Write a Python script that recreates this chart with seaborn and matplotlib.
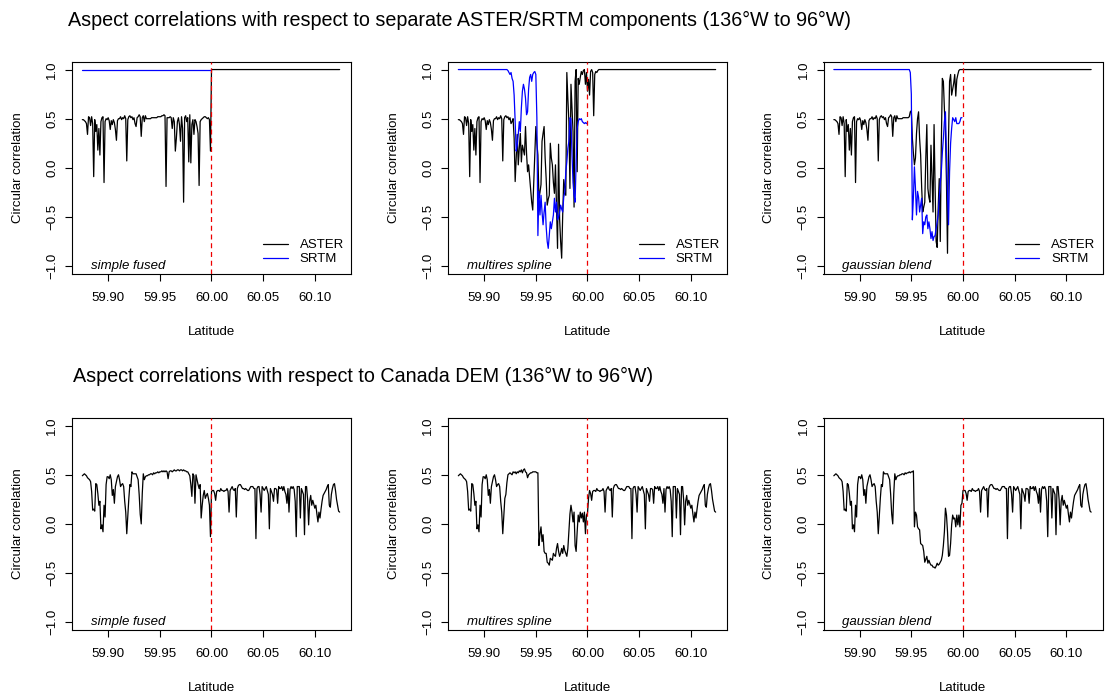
import numpy as np
import pandas as pd
import matplotlib
matplotlib.use("Agg")
import matplotlib.pyplot as plt
from matplotlib.lines import Line2D
import seaborn as sns

# ---------------- data ----------------
LAT0 = 59.875
STEP = 0.001

# top row: ASTER / SRTM components (values on 0.001 deg grid from 59.875)
aster_simple = [0.49, 0.49, 0.48, 0.47, 0.45, 0.34, 0.52, 0.51, 0.43, 0.52,
                0.45, -0.09, 0.49, 0.37, 0.44, 0.18, 0.40, 0.13, 0.47, 0.51,
                0.52, -0.15, 0.47, 0.50, 0.49, 0.51, 0.48, 0.39, 0.48, 0.44,
                0.49, 0.46, 0.39, 0.28, 0.48, 0.50, 0.50, 0.52, 0.49, 0.51,
                0.50, 0.53, 0.50, 0.07, 0.49, 0.52, 0.53, 0.51, 0.52, 0.49,
                0.51, 0.45, 0.42, 0.51, 0.52, 0.54, 0.52, 0.32, 0.51, 0.53,
                0.47, 0.53, 0.50, 0.50, 0.50, 0.50, 0.50, 0.51, 0.51, 0.51,
                0.51, 0.51, 0.51, 0.52, 0.52, 0.52, 0.52, 0.53, 0.53, 0.54,
                0.53, -0.19, 0.51, 0.51, 0.51, 0.52, 0.51, 0.40, 0.51, 0.47,
                0.17, 0.30, 0.47, 0.51, 0.44, 0.27, 0.52, 0.40, -0.35, 0.51,
                0.53, 0.47, 0.51, 0.06, 0.54, 0.05, 0.44, 0.49, 0.34, 0.49,
                0.47, 0.42, 0.35, -0.18, 0.47, 0.49, 0.50, 0.51, 0.52, 0.52,
                0.51, 0.50, 0.51, 0.49, 0.17]
aster_simple_tail_lat = [60.000, 60.124]
aster_simple_tail_val = [1.0, 1.0]
srtm_simple_lat = [59.875, 59.999]
srtm_simple_val = [1.0, 1.0]

# multires spline: ASTER from index 52, SRTM from index 48
aster_multires_mid = [0.47, 0.50, 0.30, -0.14, 0.10, 0.34, 0.03, 0.20, 0.35, 0.06,
                      0.23, 0.18, 0.13, 0.42, 0.15, -0.04, 0.03, -0.10, -0.24, -0.35,
                      -0.43, -0.14, 0.15, 0.42, 0.25, 0.13, -0.31, -0.25, -0.17, 0.27,
                      0.35, 0.42, 0.10, -0.11, -0.38, -0.32, -0.28, 0.25, 0.10, 0.03,
                      -0.15, -0.26, 0.03, -0.40, -0.82, 0.24, -0.52, -0.75, -0.92, -0.48,
                      -0.12, -0.20, -0.28, 0.97, 0.70, 0.47, -0.21, 0.85, 0.60, 0.37,
                      -0.40, 0.88, 1.00, -0.04, 0.91, 0.85, 0.92, 0.98, 0.95, 0.99,
                      1.00, 0.85, 0.97, 0.78, 0.90, 0.74, 0.98, 1.00, 0.97, 0.53,
                      0.95, 0.98, 0.97, 0.99, 1.00, 1.00, 1.00]
aster_multires_tail_lat = [60.014, 60.124]
aster_multires_tail_val = [1.0, 1.0]
srtm_multires_head_lat = [59.875, 59.922]
srtm_multires_head_val = [1.0, 1.0]
srtm_multires_mid = [0.99, 0.97, 0.95, 0.97, 0.91, 0.88, 0.74, 0.47, 0.17, 0.23,
                     0.34, 0.47, 0.37, 0.61, 0.78, 0.85, 0.80, 0.71, 0.54, 0.57,
                     0.80, 0.92, 0.95, 0.88, 0.95, 0.97, 0.98, 0.95, 0.51, -0.69,
                     -0.24, -0.48, -0.28, -0.45, -0.58, -0.45, -0.35, -0.60, -0.75, -0.82,
                     -0.69, -0.55, -0.62, -0.55, -0.48, -0.31, -0.45, -0.35, -0.53, -0.50,
                     -0.45, -0.38, -0.42, -0.45, -0.30, -0.25, -0.04, 0.06, 0.20, 0.27,
                     0.51, 0.50, 0.13, -0.15, -0.28, -0.35, 0.06, 0.40, 0.47, 0.50,
                     0.49, 0.50, 0.47, 0.46, 0.45, 0.46, 0.45, 0.46]

# gaussian blend: ASTER from index 74, SRTM from index 74
aster_gauss_mid = [0.57, 0.58, 0.30, 0.15, 0.03, 0.10, 0.35, 0.50, 0.57, 0.30,
                   0.13, -0.20, -0.45, -0.40, -0.35, 0.10, 0.44, -0.21, -0.30, -0.35,
                   0.23, -0.10, -0.45, 0.44, -0.20, -0.75, -0.81, -0.40, -0.11, -0.75,
                   0.23, 0.91, 0.88, 0.60, 0.37, -0.14, -0.87, 0.30, 0.88, 0.95,
                   0.74, 0.80, 0.86, 0.95, 0.73, 0.90, 0.95, 0.99, 1.00]
aster_gauss_tail_lat = [59.998, 60.124]
aster_gauss_tail_val = [1.0, 1.0]
srtm_gauss_head_lat = [59.875, 59.948]
srtm_gauss_head_val = [1.0, 1.0]
srtm_gauss_mid = [0.97, 0.75, -0.53, -0.30, 0.01, -0.21, -0.48, -0.24, -0.30, -0.45,
                  -0.38, -0.31, -0.67, -0.55, -0.58, -0.50, -0.48, -0.62, -0.55, -0.62,
                  -0.72, -0.65, -0.74, -0.70, -0.69, -0.62, -0.55, -0.48, -0.31, -0.15,
                  -0.04, 0.15, 0.30, 0.47, 0.57, 0.13, -0.28, -0.58, -0.04, 0.25,
                  0.40, 0.51, 0.49, 0.47, 0.51, 0.45, 0.45, 0.45, 0.47, 0.51, 0.51]

# bottom row: correlation with Canada DEM (0.001 deg grid from 59.875)
canada_simple = [0.49, 0.50, 0.51, 0.50, 0.49, 0.47, 0.46, 0.45, 0.43, 0.33,
                 0.14, 0.15, 0.13, 0.41, 0.40, 0.31, 0.19, 0.23, -0.05, -0.01,
                 -0.08, 0.19, 0.07, 0.40, 0.48, 0.48, 0.46, 0.50, 0.45, 0.29,
                 0.35, 0.21, 0.38, 0.43, 0.48, 0.50, 0.45, 0.38, 0.40, 0.41,
                 0.38, 0.23, 0.12, -0.10, 0.09, 0.26, 0.40, 0.38, 0.53, 0.51,
                 0.51, 0.51, 0.51, 0.48, 0.45, 0.30, 0.10, 0.00, 0.31, 0.51,
                 0.45, 0.48, 0.49, 0.49, 0.50, 0.50, 0.51, 0.51, 0.50, 0.52,
                 0.51, 0.52, 0.52, 0.53, 0.52, 0.53, 0.53, 0.54, 0.53, 0.54,
                 0.53, 0.54, 0.53, 0.46, 0.53, 0.54, 0.54, 0.53, 0.54, 0.55,
                 0.54, 0.54, 0.55, 0.55, 0.54, 0.55, 0.55, 0.54, 0.55, 0.54,
                 0.54, 0.53, 0.53, 0.51, 0.49, 0.40, 0.28, 0.51, 0.49, 0.21,
                 0.50, 0.45, 0.40, 0.36, 0.40, 0.06, 0.19, 0.29, 0.34, 0.26,
                 0.29, 0.31, 0.26, 0.19, -0.13, 0.33, 0.34, 0.34, 0.31, 0.24,
                 0.33, 0.34, 0.34, 0.33, 0.36, 0.34, 0.34, 0.33, 0.34, 0.34,
                 0.36, 0.33, 0.12, 0.34, 0.36, 0.38, 0.35, 0.34, 0.36, 0.07,
                 0.36, 0.39, 0.40, 0.40, 0.38, 0.36, 0.36, 0.35, 0.36, 0.35,
                 0.34, 0.34, 0.36, 0.38, 0.38, 0.38, 0.36, 0.36, -0.15, 0.36,
                 0.38, 0.38, 0.30, 0.12, 0.38, 0.36, 0.34, 0.36, 0.38, 0.34,
                 0.30, -0.05, 0.36, 0.33, 0.30, 0.23, 0.36, 0.36, 0.35, 0.21,
                 0.38, 0.36, 0.36, 0.38, 0.34, 0.38, 0.33, 0.30, 0.21, 0.36,
                 0.12, 0.35, 0.38, 0.36, 0.38, 0.35, 0.23, -0.13, 0.38, 0.38,
                 0.38, 0.06, 0.36, 0.33, 0.30, -0.11, 0.38, 0.38, 0.25, -0.01,
                 0.23, 0.29, 0.19, 0.24, 0.20, 0.16, 0.19, 0.10, 0.02, 0.12,
                 0.06, 0.15, 0.23, 0.29, 0.31, 0.33, 0.35, 0.38, 0.40, 0.19,
                 0.17, 0.30, 0.36, 0.40, 0.41, 0.34, 0.25, 0.19, 0.13, 0.12]
canada_multires_mid = [0.30, 0.42, 0.50, 0.51, 0.52, 0.51, 0.50, 0.53, 0.52, 0.53,
                       0.51, 0.53, 0.52, 0.54, 0.53, 0.55, 0.52, 0.55, 0.56, 0.53,
                       0.52, 0.47, 0.50, 0.51, 0.52, 0.52, 0.53, 0.53, 0.53, 0.53,
                       0.52, 0.52, -0.22, -0.10, -0.03, -0.18, -0.11, -0.28, -0.30, -0.30,
                       -0.39, -0.40, -0.42, -0.35, -0.36, -0.37, -0.30, -0.32, -0.33, -0.25,
                       -0.20, -0.28, -0.33, -0.30, -0.25, -0.30, -0.22, -0.27, -0.30, -0.33,
                       -0.25, -0.08, 0.10, 0.19, 0.12, 0.02, 0.12, -0.22, -0.28, -0.08,
                       0.09, 0.02, 0.12, 0.06, 0.11, 0.02, 0.12, -0.10, 0.09, 0.11, 0.26]
canada_gauss_mid = [-0.03, 0.12, 0.09, -0.03, -0.05, -0.06, -0.20, -0.21, -0.22, -0.28,
                    -0.39, -0.36, -0.33, -0.40, -0.37, -0.40, -0.42, -0.42, -0.44, -0.44,
                    -0.45, -0.43, -0.40, -0.42, -0.41, -0.39, -0.37, -0.32, -0.22, -0.08,
                    0.16, 0.09, -0.08, -0.33, -0.32, -0.20, -0.01, 0.09, 0.05, 0.06,
                    -0.03, 0.09, -0.01, 0.09, -0.03, 0.19, 0.21, 0.34]

panel_names = ["simple fused", "multires spline", "gaussian blend"]
x_ticks = [59.90, 59.95, 60.00, 60.05, 60.10]
x_tick_labels = ["59.90", "59.95", "60.00", "60.05", "60.10"]
y_ticks = [-1.0, -0.5, 0.0, 0.5, 1.0]
y_tick_labels = ["\u22121.0", "\u22120.5", "0.0", "0.5", "1.0"]
title_top = "Aspect correlations with respect to separate ASTER/SRTM components (136\u00b0W to 96\u00b0W)"
title_bottom = "Aspect correlations with respect to Canada DEM (136\u00b0W to 96\u00b0W)"


def grid(start, vals):
    lat = np.round(LAT0 + STEP * (start + np.arange(len(vals))), 3)
    return list(lat), list(vals)


def frame(series, parts):
    lat, val = [], []
    for la, va in parts:
        lat += list(la)
        val += list(va)
    return pd.DataFrame({"lat": lat, "corr": val, "series": series})


top_frames = [
    pd.concat([
        frame("ASTER", [grid(0, aster_simple), (aster_simple_tail_lat, aster_simple_tail_val)]),
        frame("SRTM", [(srtm_simple_lat, srtm_simple_val)]),
    ]),
    pd.concat([
        frame("ASTER", [grid(0, aster_simple[:52]), grid(52, aster_multires_mid),
                        (aster_multires_tail_lat, aster_multires_tail_val)]),
        frame("SRTM", [(srtm_multires_head_lat, srtm_multires_head_val), grid(48, srtm_multires_mid)]),
    ]),
    pd.concat([
        frame("ASTER", [grid(0, aster_simple[:74]), grid(74, aster_gauss_mid),
                        (aster_gauss_tail_lat, aster_gauss_tail_val)]),
        frame("SRTM", [(srtm_gauss_head_lat, srtm_gauss_head_val), grid(74, srtm_gauss_mid)]),
    ]),
]
bottom_frames = [
    frame("Canada", [grid(0, canada_simple)]),
    frame("Canada", [grid(0, canada_simple[:46]), grid(46, canada_multires_mid),
                     grid(127, canada_simple[127:])]),
    frame("Canada", [grid(0, canada_simple[:78]), grid(78, canada_gauss_mid),
                     grid(126, canada_simple[126:])]),
]

# ---------------- style ----------------
sns.set_style("ticks")
plt.rcParams["font.family"] = ["Liberation Sans", "DejaVu Sans"]
plt.rcParams.update({
    "text.color": "black", "axes.labelcolor": "black",
    "xtick.color": "black", "ytick.color": "black",
    "axes.edgecolor": "black", "axes.linewidth": 0.8,
})
FS = 9.5
W, H = 1105, 692
fig = plt.figure(figsize=(W / 100, H / 100), dpi=100)

col_x = [72, 448, 823.5]
row_top = [61.7, 417.8]
box_w, box_h = 279, 212.2

palette = {"ASTER": "black", "SRTM": "blue", "Canada": "black"}


def style_axes(ax, name):
    ax.set_xlim(59.865, 60.135)
    ax.set_ylim(-1.08, 1.08)
    ax.set_xticks(x_ticks)
    ax.set_xticklabels(x_tick_labels)
    ax.set_yticks(y_ticks)
    ax.set_yticklabels(y_tick_labels, rotation=90, va="center")
    ax.tick_params(axis="both", direction="out", length=5, width=0.8, labelsize=FS)
    ax.tick_params(axis="x", pad=8)
    ax.tick_params(axis="y", pad=5)
    for s in ax.spines.values():
        s.set_visible(True)
        s.set_color("black")
        s.set_linewidth(0.8)
    ax.set_xlabel("Latitude", fontsize=FS)
    ax.set_ylabel("Circular correlation", fontsize=FS)
    ax.xaxis.set_label_coords(0.5, -0.272)
    ax.xaxis.label.set_va("center")
    ax.yaxis.set_label_coords(-54 / box_w, 0.5)
    ax.yaxis.label.set_va("center")
    ax.axvline(60.0, color="#ee0000", lw=0.9, ls=(0, (4, 3)), zorder=4)
    ax.text(59.8833, -1.0, name, fontsize=FS, style="italic", ha="left", va="center")


for r, frames in enumerate([top_frames, bottom_frames]):
    for c, df in enumerate(frames):
        ax = fig.add_axes([col_x[c] / W, 1 - (row_top[r] + box_h) / H, box_w / W, box_h / H])
        order = [s for s in ["ASTER", "SRTM", "Canada"] if s in set(df["series"])]
        sns.lineplot(data=df, x="lat", y="corr", hue="series", hue_order=order,
                     palette=palette, estimator=None, sort=False, lw=0.9,
                     legend=False, ax=ax)
        style_axes(ax, panel_names[c])
        if r == 0:
            handles = [Line2D([], [], color="black", lw=0.9), Line2D([], [], color="blue", lw=0.9)]
            ax.legend(handles, ["ASTER", "SRTM"], loc="lower right",
                      bbox_to_anchor=(0.975, 0.04), frameon=False, fontsize=FS,
                      handlelength=1.85, handletextpad=0.9, labelspacing=0.15,
                      borderpad=0, borderaxespad=0)

fig.text(68 / W, 1 - 20.7 / H, title_top, fontsize=14.2, ha="left", va="center")
fig.text(72.7 / W, 1 - 376.7 / H, title_bottom, fontsize=14.2, ha="left", va="center")

fig.savefig("out.png", dpi=100)
